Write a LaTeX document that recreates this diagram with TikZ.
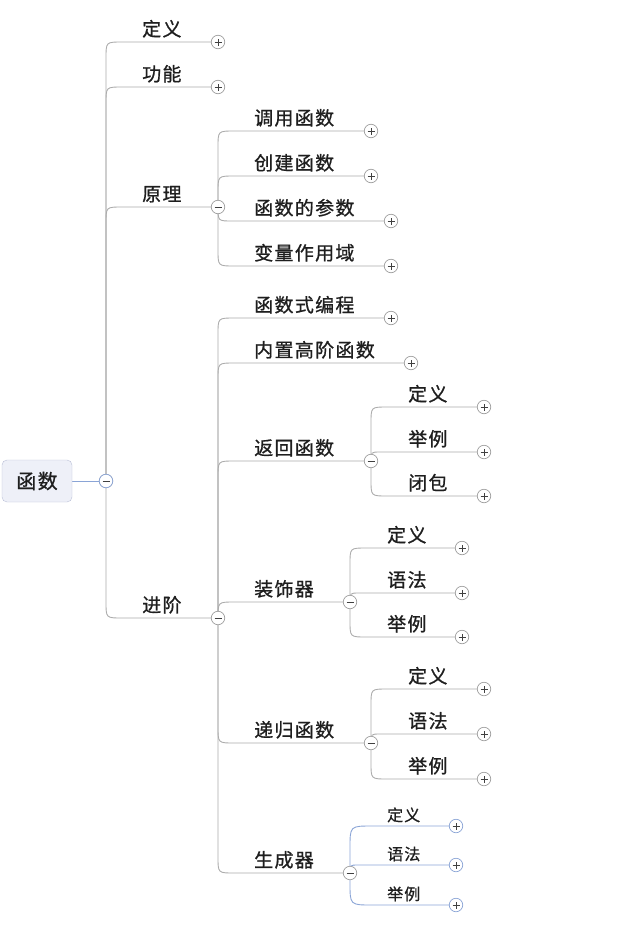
\documentclass[tikz,border=0pt]{standalone}
\usepackage{fontspec}
\newfontfamily\cjk[LetterSpace=7,FakeBold=0.9]{Noto Sans CJK SC}
\usetikzlibrary{calc,backgrounds}
\definecolor{linegray}{HTML}{ABABAB}
\definecolor{lineblue}{HTML}{8AA4D6}
\definecolor{boxfill}{HTML}{EEF0F8}
\definecolor{boxdraw}{HTML}{B9BED6}
\definecolor{textdark}{HTML}{1E1E1E}

\begin{document}
\begin{tikzpicture}
  [x=1pt,y=-1pt,
   every node/.style={font=\cjk\fontsize{19}{19}\selectfont,text=textdark},
   topic/.style={anchor=base west,inner sep=0pt},
   small/.style={font=\cjk\fontsize{16}{16}\selectfont},
   rootbox/.style={draw=boxdraw,fill=boxfill,rounded corners=5pt,minimum width=70pt,minimum height=42pt,font=\cjk\fontsize{20}{20}\selectfont},
   knob/.style={circle,draw=gray!75,fill=white,minimum size=13.5pt,inner sep=0pt,line width=.7pt},
   minus/.style={knob,path picture={\draw[black!75,line width=.8pt] ([xshift=-3.5pt]path picture bounding box.center) -- ([xshift=3.5pt]path picture bounding box.center);}},
   plus/.style={knob,path picture={\draw[black!75,line width=.8pt] ([xshift=-3.5pt]path picture bounding box.center) -- ([xshift=3.5pt]path picture bounding box.center) ([yshift=-3.5pt]path picture bounding box.center) -- ([yshift=3.5pt]path picture bounding box.center);}},
   link/.style={draw=linegray,line width=.9pt},
   bluelink/.style={draw=lineblue,line width=.9pt},
   branch/.style={to path={let \p1=(\tikztostart),\p2=(\tikztotarget),\n1={min(#1,abs(\y2-\y1))},\n2={(\y2>\y1)*2-1} in -- (\x1,\y2-\n2*\n1) .. controls (\x1,\y2) .. (\x1+\n1,\y2) -- (\p2)}},
   branch/.default=16pt]
  \useasboundingbox (0,0) rectangle (623,930);

  \node[rootbox] (root) at (37,481) {函数};

  % collapse markers
  \foreach \n/\x/\y in {0/106/481, a3/218/207, a4/218/618, c3/371/461, c4/350/602, c5/371/743, c6/350/873}
    \node[minus] (k\n) at (\x,\y) {};
  \node[minus,draw=lineblue] at (k0) {};
  \foreach \n/\x/\y in {a1/218/42, a2/218/87, b1/371/131, b2/371/176, b3/391/221, b4/391/266,
                        c1/391/318, c2/411/363, d1/484/407, d2/484/452, d3/484/496,
                        e1/462/548, e2/462/593, e3/462/637, f1/484/689, f2/484/734, f3/484/779}
    \node[plus] (k\n) at (\x,\y) {};
  \foreach \n/\x/\y in {g1/456/826, g2/456/865, g3/456/905}
    \node[plus,draw=lineblue] (k\n) at (\x,\y) {};

  % topics
  \foreach \n/\x/\y/\t in {a1/142/42/定义, a2/142/87/功能, a3/142/207/原理, a4/142/618/进阶,
                           b1/254/131/调用函数, b2/254/176/创建函数, b3/254/221/函数的参数, b4/254/266/变量作用域,
                           c1/254/318/函数式编程, c2/254/363/内置高阶函数, c3/254/461/返回函数,
                           c4/254/602/装饰器, c5/254/743/递归函数, c6/254/873/生成器,
                           d1/408/407/定义, d2/408/452/举例, d3/408/496/闭包,
                           e1/387/548/定义, e2/387/593/语法, e3/387/637/举例,
                           f1/408/689/定义, f2/408/734/语法, f3/408/779/举例}
    \node[topic] (t\n) at (\x,\y-6) {\t};
  \foreach \n/\y/\t in {g1/826/定义, g2/865/语法, g3/905/举例}
    \node[topic,small] (t\n) at (387,\y-5) {\t};

  \begin{scope}[on background layer]
    \draw[bluelink] (root) -- (k0);
    \foreach \from/\to in {k0/ka1, k0/ka2, k0/ka3, k0/ka4,
                           ka3/kb1, ka3/kb2, ka3/kb3, ka3/kb4,
                           ka4/kc1, ka4/kc2, ka4/kc3, ka4/kc4, ka4/kc5, ka4/kc6,
                           kc3/kd1, kc3/kd2, kc3/kd3, kc4/ke1, kc4/ke2, kc4/ke3,
                           kc5/kf1, kc5/kf2, kc5/kf3}
      \draw[link] (\from.center) to[branch] (\to.center);
    \foreach \to in {kg1, kg2, kg3}
      \draw[bluelink] (kc6.center) to[branch=22pt] (\to.center);
  \end{scope}
\end{tikzpicture}
\end{document}
